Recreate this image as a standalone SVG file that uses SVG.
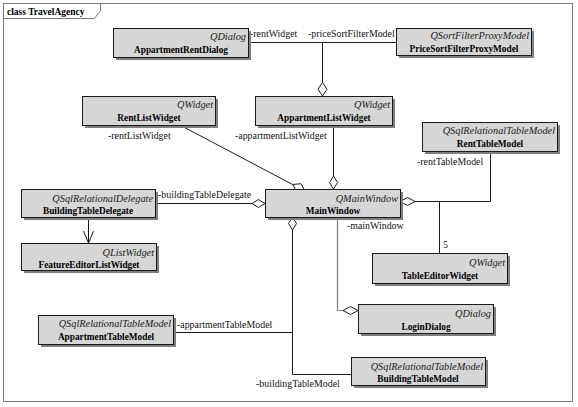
<svg xmlns="http://www.w3.org/2000/svg" width="578" height="407" viewBox="0 0 578 407">
<style>
.frame{fill:none;stroke:#7a7a7a;stroke-width:1}
.box{fill:#d6d6d6;stroke:#1a1a1a;stroke-width:1}
.sh{fill:#7f7f7f}
.st{font-family:"Liberation Serif",serif;font-style:italic;font-size:10.3px;fill:#222;text-anchor:end}
.nm{font-family:"Liberation Serif",serif;font-weight:bold;font-size:9.3px;fill:#000;text-anchor:middle}
.lb{font-family:"Liberation Serif",serif;font-size:9.9px;fill:#111}
.ln{fill:none;stroke:#1a1a1a;stroke-width:1}
.lg{fill:none;stroke:#808080;stroke-width:1.2}
.dm{fill:#fff;stroke:#1a1a1a;stroke-width:1}
</style>
<rect x="0" y="0" width="578" height="407" fill="#fff"/>
<rect class="frame" x="3.5" y="3.5" width="569" height="398"/>
<path class="frame" d="M3.5,3.5 H100.5 V10.5 L94.5,18.5 H3.5"/>
<text x="7" y="15" font-family="'Liberation Serif',serif" font-weight="bold" font-size="9.5px" fill="#000">class TravelAgency</text>

<g id="connectors">
  <!-- rentWidget / priceSortFilterModel -->
  <path class="ln" d="M248,42.5 H396 M322.5,42.5 V82.5"/>
  <path class="dm" d="M322.5,82.5 L327,89.2 L322.5,96 L318,89.2 Z"/>
  <text class="lb" x="250" y="37">-rentWidget</text>
  <text class="lb" x="308" y="37">-priceSortFilterModel</text>
  <!-- rentListWidget -->
  <path class="ln" d="M178,124 L292.6,184.5" stroke="#333"/>
  <path class="dm" d="M305,191 L300.9,183.7 L292.6,184.5 L296.7,191.7 Z"/>
  <text class="lb" x="108" y="139">-rentListWidget</text>
  <!-- appartmentListWidget -->
  <path class="ln" d="M333.5,125 V176"/>
  <path class="dm" d="M333.5,176 L337.5,182.5 L333.5,189 L329.5,182.5 Z"/>
  <text class="lb" x="235" y="139">-appartmentListWidget</text>
  <!-- buildingTableDelegate -->
  <path class="ln" d="M155,203.5 H252"/>
  <path class="dm" d="M252,203.5 L258.5,199.5 L265,203.5 L258.5,207.5 Z"/>
  <text class="lb" x="158" y="198">-buildingTableDelegate</text>
  <!-- rentTableModel / TableEditorWidget -->
  <path class="ln" d="M415,201.5 H490.5 V151"/>
  <path class="ln" d="M439.5,201.5 V253"/>
  <path class="dm" d="M400,201.5 L407.5,197.5 L415,201.5 L407.5,205.5 Z"/>
  <text class="lb" x="417" y="165">-rentTableModel</text>
  <text class="lb" x="443" y="248">5</text>
  <!-- generalization-like arrow -->
  <path class="ln" d="M88.5,217 V243 M83.5,231 L88.5,243 L93.5,231"/>
  <!-- mainWindow -->
  <path class="lg" d="M337.5,217 V310.5 H343"/>
  <path class="dm" d="M343,310.5 L350.5,306.5 L358,310.5 L350.5,314.5 Z"/>
  <text class="lb" x="347" y="229">-mainWindow</text>
  <!-- appartmentTableModel / buildingTableModel -->
  <path class="ln" d="M292.5,230 V374.5 H351 M173,332.5 H292.5"/>
  <path class="dm" d="M292.5,217 L296.5,223.5 L292.5,230 L288.5,223.5 Z"/>
  <text class="lb" x="177" y="328">-appartmentTableModel</text>
  <text class="lb" x="256" y="387">-buildingTableModel</text>
</g>

<g id="AppartmentRentDialog">
  <rect class="sh" x="116" y="31" width="135" height="29"/>
  <rect class="box" x="113.5" y="28.5" width="135" height="29"/>
  <text class="st" x="246" y="40">QDialog</text>
  <text class="nm" x="181" y="53">AppartmentRentDialog</text>
</g>
<g id="PriceSortFilterProxyModel">
  <rect class="sh" x="399" y="31" width="135" height="27"/>
  <rect class="box" x="396.5" y="28.5" width="135" height="27"/>
  <text class="st" x="529" y="39">QSortFilterProxyModel</text>
  <text class="nm" x="464" y="52">PriceSortFilterProxyModel</text>
</g>
<g id="RentListWidget">
  <rect class="sh" x="85" y="99" width="133" height="29"/>
  <rect class="box" x="82.5" y="96.5" width="133" height="29"/>
  <text class="st" x="213" y="108">QWidget</text>
  <text class="nm" x="149" y="121">RentListWidget</text>
</g>
<g id="AppartmentListWidget">
  <rect class="sh" x="258" y="99" width="137" height="29"/>
  <rect class="box" x="255.5" y="96.5" width="137" height="29"/>
  <text class="st" x="390" y="108">QWidget</text>
  <text class="nm" x="324" y="121">AppartmentListWidget</text>
</g>
<g id="RentTableModel">
  <rect class="sh" x="425" y="125" width="135" height="29"/>
  <rect class="box" x="422.5" y="122.5" width="135" height="29"/>
  <text class="st" x="555" y="134">QSqlRelationalTableModel</text>
  <text class="nm" x="490" y="147">RentTableModel</text>
</g>
<g id="BuildingTableDelegate">
  <rect class="sh" x="24" y="192" width="134" height="28"/>
  <rect class="box" x="21.5" y="189.5" width="134" height="28"/>
  <text class="st" x="153" y="202">QSqlRelationalDelegate</text>
  <text class="nm" x="88" y="214">BuildingTableDelegate</text>
</g>
<g id="MainWindow">
  <rect class="sh" x="268" y="192" width="135" height="28"/>
  <rect class="box" x="265.5" y="189.5" width="135" height="28"/>
  <text class="st" x="398" y="202">QMainWindow</text>
  <text class="nm" x="333" y="214">MainWindow</text>
</g>
<g id="FeatureEditorListWidget">
  <rect class="sh" x="24" y="246" width="135" height="27"/>
  <rect class="box" x="21.5" y="243.5" width="135" height="27"/>
  <text class="st" x="154" y="256">QListWidget</text>
  <text class="nm" x="89" y="268">FeatureEditorListWidget</text>
</g>
<g id="TableEditorWidget">
  <rect class="sh" x="375" y="256" width="135" height="30"/>
  <rect class="box" x="372.5" y="253.5" width="135" height="30"/>
  <text class="st" x="505" y="266">QWidget</text>
  <text class="nm" x="440" y="279">TableEditorWidget</text>
</g>
<g id="LoginDialog">
  <rect class="sh" x="361" y="307" width="135" height="29"/>
  <rect class="box" x="358.5" y="304.5" width="135" height="29"/>
  <text class="st" x="491" y="317">QDialog</text>
  <text class="nm" x="426" y="330">LoginDialog</text>
</g>
<g id="AppartmentTableModel">
  <rect class="sh" x="41" y="318" width="135" height="29"/>
  <rect class="box" x="38.5" y="315.5" width="135" height="29"/>
  <text class="st" x="171" y="327">QSqlRelationalTableModel</text>
  <text class="nm" x="106" y="340">AppartmentTableModel</text>
</g>
<g id="BuildingTableModel">
  <rect class="sh" x="354" y="360" width="134" height="28"/>
  <rect class="box" x="351.5" y="357.5" width="134" height="28"/>
  <text class="st" x="483" y="370">QSqlRelationalTableModel</text>
  <text class="nm" x="418" y="382">BuildingTableModel</text>
</g>
</svg>
